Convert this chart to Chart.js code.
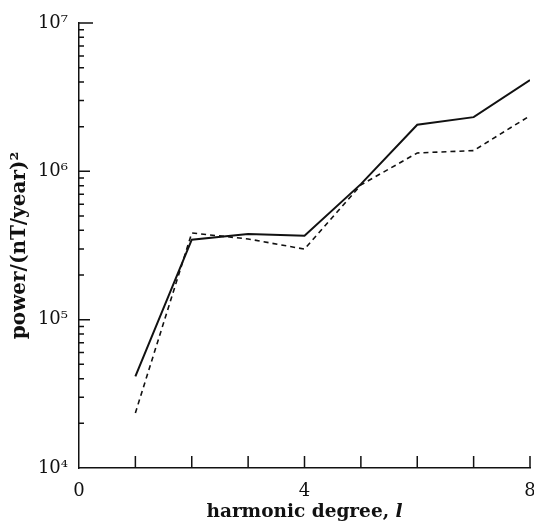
<!DOCTYPE html>
<html>
<head>
<meta charset="utf-8">
<script src="https://cdn.jsdelivr.net/npm/chart.js@4"></script>
<style>
  body { margin: 0; background: #fff; }
  #wrap { width: 534px; height: 525px; }
</style>
</head>
<body>
<div id="wrap"><canvas id="powerChart" width="534" height="525"></canvas></div>
<script>
// harmonic degree l = 1..8
const degrees = [1, 2, 3, 4, 5, 6, 7, 8];
// solid curve
const powerSolid = [41500, 346000, 378000, 368000, 820000, 2060000, 2320000, 4130000];
// dashed curve
const powerDashed = [23500, 384000, 350000, 299000, 810000, 1330000, 1380000, 2370000];
const xTickLabels = [0, 4, 8];
const yDecades = [1e4, 1e5, 1e6, 1e7];

const serif = "'DejaVu Serif', 'Liberation Serif', serif";

function sup(n) {
  const map = { '0': '⁰', '1': '¹', '2': '²', '3': '³', '4': '⁴', '5': '⁵', '6': '⁶', '7': '⁷', '8': '⁸', '9': '⁹' };
  return String(n).split('').map(c => map[c]).join('');
}

// inward tick marks and the x title with an italic l
const axisDecor = {
  id: 'axisDecor',
  afterDraw(chart) {
    const ctx = chart.ctx;
    const xs = chart.scales.x, ys = chart.scales.y;
    const area = chart.chartArea;
    ctx.save();
    ctx.strokeStyle = '#111';
    ctx.lineWidth = 1.5;
    ctx.beginPath();
    xs.ticks.forEach(t => {
      if (t.value === 0) return;
      const px = xs.getPixelForValue(t.value);
      ctx.moveTo(px, area.bottom);
      ctx.lineTo(px, area.bottom - 12);
    });
    ys.ticks.forEach(t => {
      if (t.value === yDecades[0]) return;
      const py = ys.getPixelForValue(t.value);
      const major = yDecades.includes(t.value);
      let len = major ? 11 : 5;
      if (t.value === yDecades[yDecades.length - 1]) len = 14;
      ctx.moveTo(area.left, py);
      ctx.lineTo(area.left + len, py);
    });
    ctx.stroke();

    // x axis title
    const partA = 'harmonic degree, ';
    const partB = 'l';
    const fA = 'bold 18.5px ' + serif;
    const fB = 'italic bold 18.5px ' + serif;
    ctx.font = fA;
    const wA = ctx.measureText(partA).width;
    ctx.font = fB;
    const wB = ctx.measureText(partB).width;
    const cx = (area.left + area.right) / 2, baseY = 517;
    const x0 = cx - (wA + wB) / 2;
    ctx.fillStyle = '#111';
    ctx.textBaseline = 'alphabetic';
    ctx.textAlign = 'left';
    ctx.font = fA;
    ctx.fillText(partA, x0, baseY);
    ctx.font = fB;
    ctx.fillText(partB, x0 + wA, baseY);
    ctx.restore();
  }
};

const ctx = document.getElementById('powerChart').getContext('2d');
const powerChart = new Chart(ctx, {
  type: 'line',
  data: {
    datasets: [{
      label: 'solid',
      data: degrees.map((d, i) => ({ x: d, y: powerSolid[i] })),
      borderColor: '#111',
      borderWidth: 2,
      pointRadius: 0,
      tension: 0,
      fill: false
    }, {
      label: 'dashed',
      data: degrees.map((d, i) => ({ x: d, y: powerDashed[i] })),
      borderColor: '#111',
      borderWidth: 1.6,
      borderDash: [5, 4],
      pointRadius: 0,
      tension: 0,
      fill: false
    }]
  },
  options: {
    responsive: false,
    animation: false,
    layout: { padding: { top: 23, right: 4, left: 0, bottom: 0 } },
    plugins: {
      legend: { display: false },
      tooltip: { enabled: false }
    },
    scales: {
      x: {
        type: 'linear',
        min: 0,
        max: 8,
        grid: { display: false },
        border: { display: true, color: '#111', width: 1.5 },
        afterBuildTicks: scale => {
          scale.ticks = [0, 1, 2, 3, 4, 5, 6, 7, 8].map(v => ({ value: v }));
        },
        ticks: {
          autoSkip: false,
          maxRotation: 0,
          padding: 5,
          color: '#111',
          font: { family: serif, size: 18 },
          callback: v => xTickLabels.includes(v) ? String(v) : ''
        },
        afterFit: scale => {
          scale.height = 57;
          scale.paddingLeft = 0;
          scale.paddingRight = 0;
        }
      },
      y: {
        type: 'logarithmic',
        min: 1e4,
        max: 1e7,
        grid: { display: false },
        border: { display: true, color: '#111', width: 1.5 },
        afterBuildTicks: scale => {
          const t = [];
          for (let d = 0; d < yDecades.length; d++) {
            for (let m = 1; m <= 9; m++) {
              const v = yDecades[d] * m;
              if (v <= yDecades[yDecades.length - 1]) t.push({ value: v });
            }
          }
          scale.ticks = t;
        },
        ticks: {
          autoSkip: false,
          padding: 3,
          color: '#111',
          font: { family: serif, size: 18 },
          callback: v => yDecades.includes(v) ? '10' + sup(Math.round(Math.log10(v))) : ''
        },
        title: {
          display: true,
          text: 'power/(nT/year)²',
          color: '#111',
          font: { family: serif, size: 20, weight: 'bold' },
          padding: { top: 8, bottom: 0 }
        },
        afterFit: scale => {
          scale.width = 79;
          scale.paddingTop = 0;
          scale.paddingBottom = 0;
        }
      }
    }
  },
  plugins: [axisDecor]
});
</script>
</body>
</html>
